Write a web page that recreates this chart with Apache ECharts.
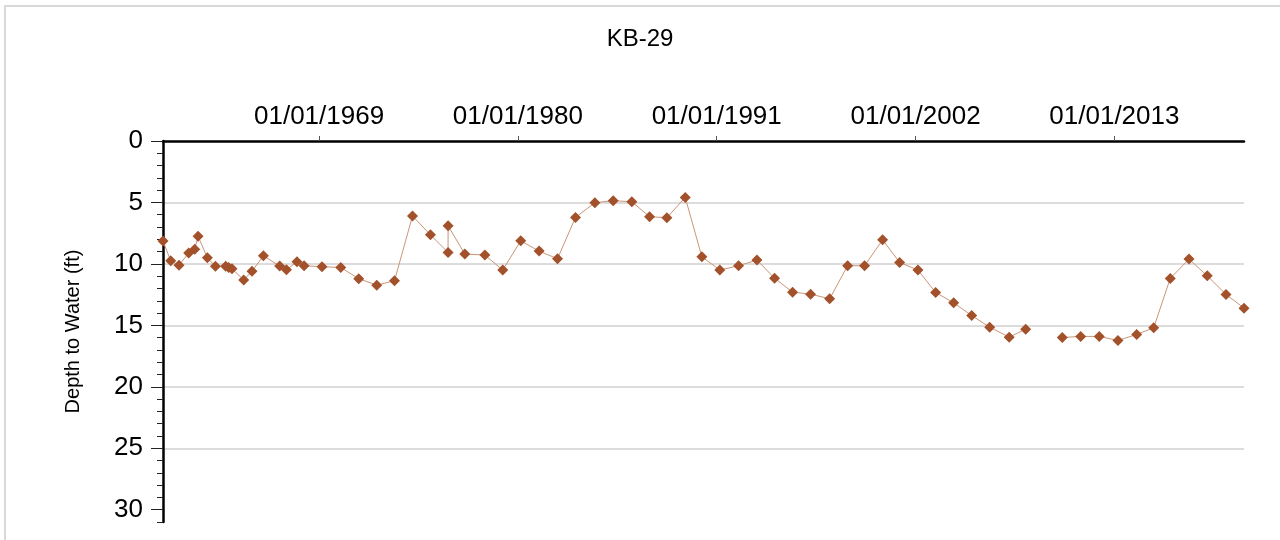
<!DOCTYPE html>
<html>
<head>
<meta charset="utf-8">
<script src="https://cdn.jsdelivr.net/npm/echarts@6/dist/echarts.min.js"></script>
<style>
html,body{margin:0;padding:0;background:#fff;}
#chart{width:1280px;height:540px;}
</style>
</head>
<body>
<div id="chart"></div>
<script>
const titleText = 'KB-29';
const yAxisName = 'Depth to Water (ft)';
const sampleDates = [
'1960-05-14','1960-10-17','1961-04-02','1961-10-15','1962-02-14','1962-04-22','1962-10-28','1963-04-08','1963-11-02','1964-01-01',
'1964-03-08','1964-10-31','1965-04-16','1965-12-03','1966-10-28','1967-03-13','1967-10-13','1968-03-04','1969-03-01','1970-03-15',
'1971-03-13','1972-03-11','1973-03-05','1974-03-04','1975-03-01','1976-02-20','1976-02-21','1977-01-24','1978-03-05','1979-03-01',
'1980-02-28','1981-03-05','1982-03-12','1983-03-10','1984-04-05','1985-04-10','1986-04-22','1987-04-15','1988-03-30','1989-04-05',
'1990-03-07','1991-03-05','1992-03-17','1993-03-24','1994-03-15','1995-03-14','1996-03-12','1997-04-01','1998-03-30','1999-03-08',
'2000-03-06','2001-02-13','2002-02-18','2003-02-11','2004-02-10','2005-02-08','2006-02-07','2007-03-08','2008-02-04','2009-02-15',
'2010-02-13','2011-02-20','2012-03-01','2013-03-14','2014-03-28','2015-03-06','2016-02-04','2017-02-17','2018-02-21','2019-03-06',
'2020-03-04'
];
const depthToWater = [
8.14,9.75,10.1,9.12,8.8,7.74,9.5,10.2,10.2,10.29,
10.4,11.3,10.6,9.34,10.18,10.48,9.83,10.15,10.23,10.29,
11.2,11.73,11.37,6.1,7.63,9.07,6.9,9.2,9.28,10.5,
8.12,8.96,9.58,6.22,5.02,4.86,4.94,6.16,6.24,4.59,
9.42,10.5,10.15,9.69,11.16,12.3,12.46,12.84,10.15,10.15,
8.04,9.88,10.5,12.32,13.17,14.2,15.15,15.96,15.31,null,
15.99,15.9,15.9,16.23,15.74,15.2,11.18,9.61,10.97,12.48,
13.6
];
const xTickYears = [1969, 1980, 1991, 2002, 2013];
const yLabelValues = [0, 5, 10, 15, 20, 25, 30];
const yMinorValues = [];
for (let i = 0; i <= 31; i++) if (i % 5 !== 0) yMinorValues.push(i);
const yMin = 0, yMax = 31;

function toTs(s){ const p = s.split('-').map(Number); return Date.UTC(p[0], p[1]-1, p[2]); }
const seriesData = sampleDates.map((d, i) => [toTs(d), depthToWater[i]]);
const xTickTs = xTickYears.map(y => Date.UTC(y, 0, 1));
function fmtDate(v){
  const d = new Date(v);
  const mm = String(d.getUTCMonth()+1).padStart(2,'0');
  const dd = String(d.getUTCDate()).padStart(2,'0');
  return mm + '/' + dd + '/' + d.getUTCFullYear();
}
const FONT = '"Liberation Sans", Arial, sans-serif';

const chart = echarts.init(document.getElementById('chart'), null, {renderer:'canvas'});
chart.setOption({
  animation: false,
  backgroundColor: '#fff',
  textStyle: {fontFamily: FONT},
  title: {
    text: titleText, left: 'center', top: 27, padding: 0,
    textStyle: {fontFamily: FONT, fontSize: 24, fontWeight: 'normal', color: '#000'}
  },
  graphic: [{
    type: 'rect', shape: {x: 5, y: 6, width: 1400, height: 700},
    style: {fill: 'none', stroke: '#d9d9d9', lineWidth: 2}, silent: true, z: -1
  }],
  grid: {left: 163, right: 36, top: 141, bottom: 18, containLabel: false},
  xAxis: {
    type: 'value', position: 'top', min: 'dataMin', max: 'dataMax',
    axisLine: {show: true, onZero: false, lineStyle: {color: '#000', width: 2.5}},
    axisTick: {show: true, customValues: xTickTs, length: 5, lineStyle: {color: '#555', width: 1}},
    axisLabel: {show: true, customValues: xTickTs, formatter: fmtDate, margin: 11,
      fontFamily: FONT, fontSize: 26, color: '#000'},
    splitLine: {show: false}
  },
  yAxis: [{
    type: 'value', position: 'left', inverse: true, min: yMin, max: yMax, interval: 5,
    name: yAxisName, nameLocation: 'middle', nameGap: 80, nameRotate: 90,
    nameTextStyle: {fontFamily: FONT, fontSize: 20, color: '#000'},
    axisLine: {show: true, onZero: false, lineStyle: {color: '#000', width: 2.5}},
    axisTick: {show: true, customValues: yLabelValues, length: 12, lineStyle: {color: '#222', width: 1}},
    axisLabel: {show: true, customValues: yLabelValues, margin: 20, fontFamily: FONT, fontSize: 26, color: '#000'},
    splitLine: {show: true, showMinLine: false, showMaxLine: false, lineStyle: {color: '#dcdcdc', width: 2}}
  }, {
    type: 'value', position: 'left', inverse: true, min: yMin, max: yMax,
    axisLine: {show: false, onZero: false},
    axisTick: {show: true, customValues: yMinorValues, length: 6, lineStyle: {color: '#222', width: 1}},
    axisLabel: {show: false},
    splitLine: {show: false}
  }],
  series: [{
    type: 'line', xAxisIndex: 0, yAxisIndex: 0, data: seriesData,
    symbol: 'diamond', symbolSize: 11, showSymbol: true, clip: false,
    connectNulls: false,
    itemStyle: {color: '#a3512a'},
    lineStyle: {color: '#c99579', width: 1},
    z: 5
  }]
});
</script>
</body>
</html>
